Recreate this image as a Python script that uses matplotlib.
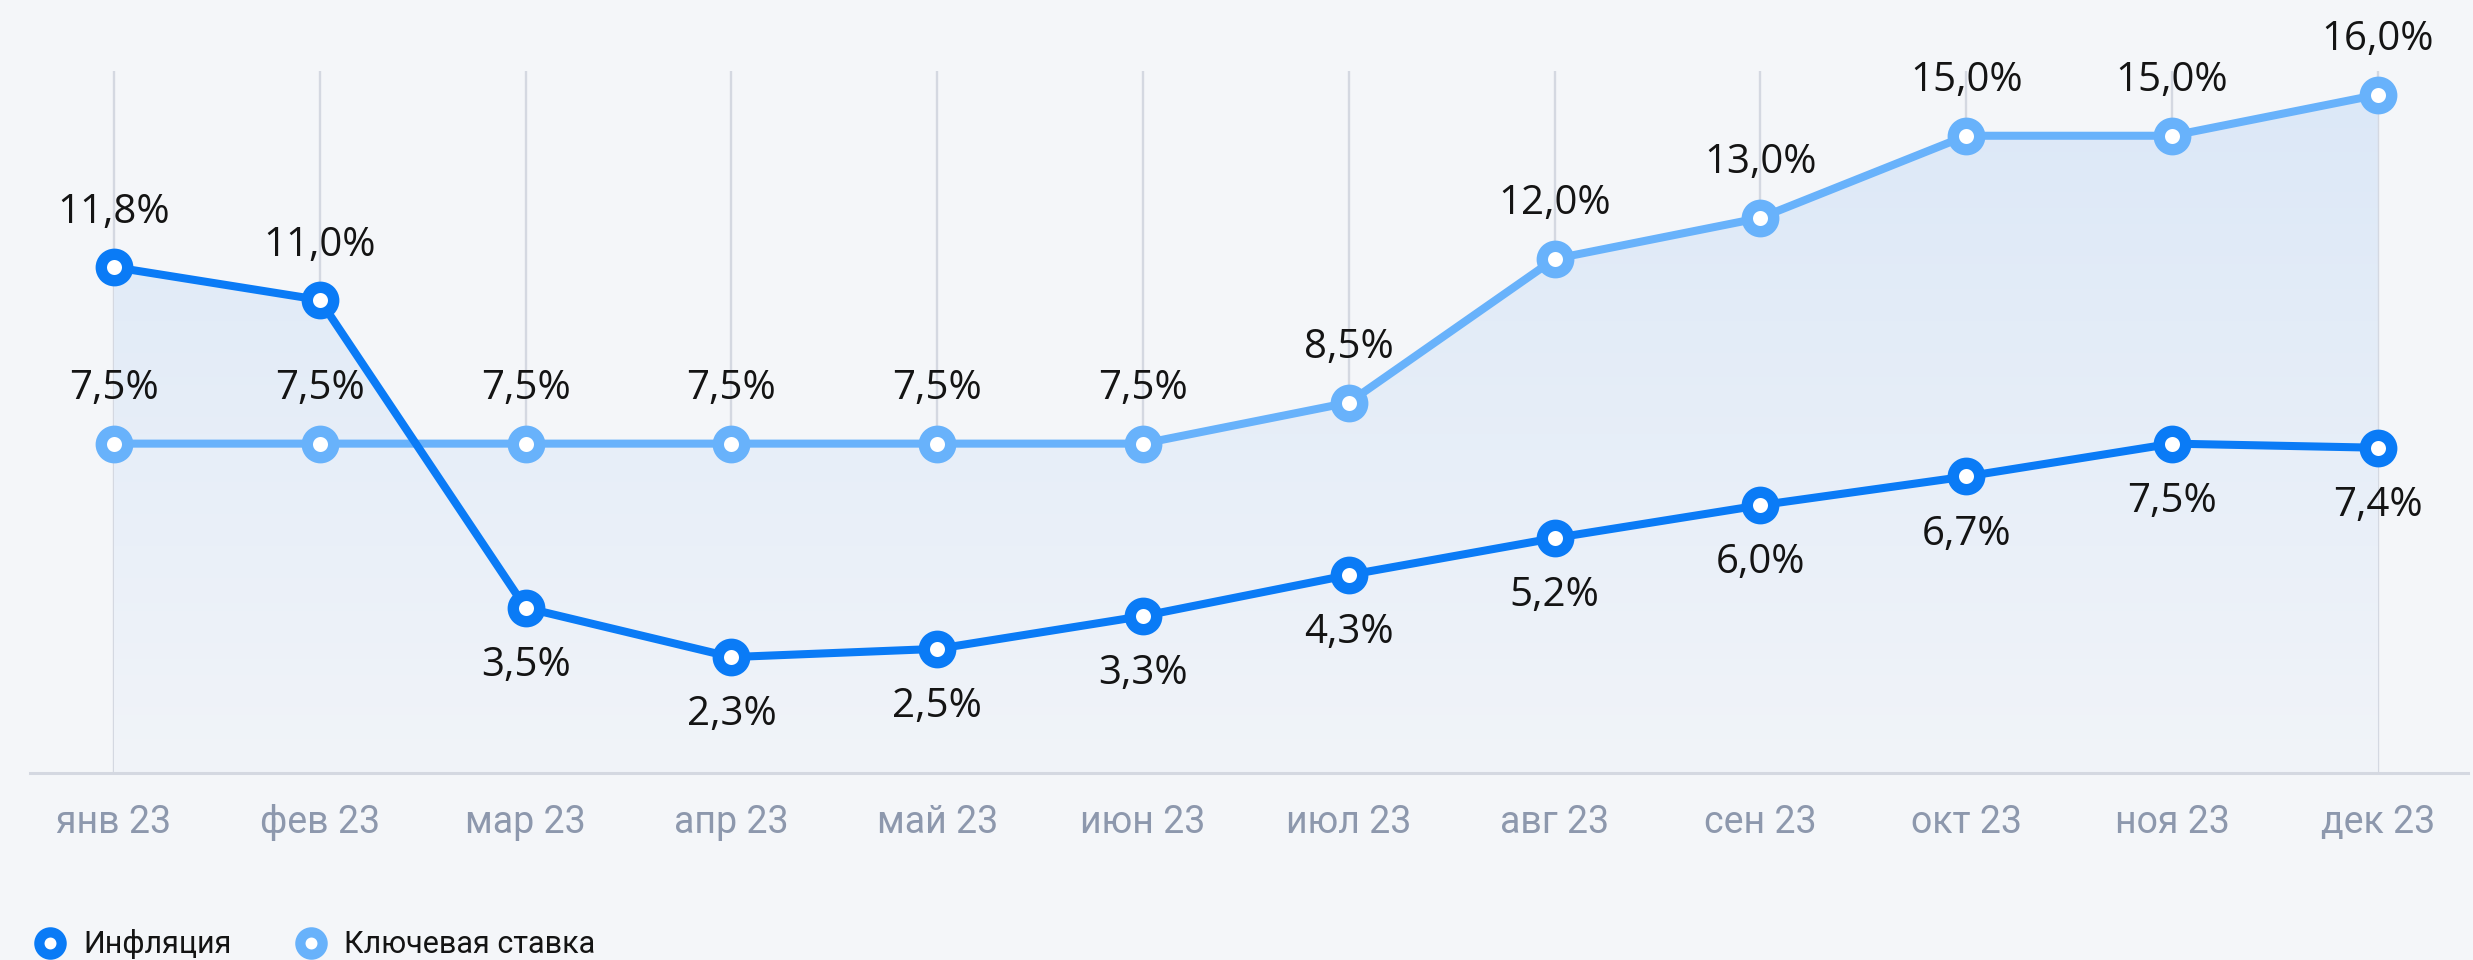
import numpy as np
import matplotlib
matplotlib.use("Agg")
import matplotlib.pyplot as plt
from matplotlib.colors import LinearSegmentedColormap
from matplotlib.lines import Line2D

# ---- data ----
months = ["янв 23", "фев 23", "мар 23", "апр 23", "май 23", "июн 23",
          "июл 23", "авг 23", "сен 23", "окт 23", "ноя 23", "дек 23"]
inflation = [11.8, 11.0, 3.5, 2.3, 2.5, 3.3, 4.3, 5.2, 6.0, 6.7, 7.5, 7.4]
key_rate = [7.5, 7.5, 7.5, 7.5, 7.5, 7.5, 8.5, 12.0, 13.0, 15.0, 15.0, 16.0]
series_names = ["Инфляция", "Ключевая ставка"]

# ---- style ----
BG = "#f4f6f9"
C_INF = "#0a7bf6"
C_RATE = "#68b2fb"
GRID = "#d4d8e1"
TICK_C = "#8d98ad"
TXT = "#141414"
VAL_FONT = ["Open Sans", "DejaVu Sans"]
TICK_FONT = ["Roboto", "DejaVu Sans"]

W, H, DPI = 2473, 960, 100
fig = plt.figure(figsize=(W / DPI, H / DPI), dpi=DPI, facecolor=BG)

# axes placement in pixels
ax_left, ax_right = 30, 2468
ax_top, ax_bottom = 71, 773
ax = fig.add_axes([ax_left / W, (H - ax_bottom) / H,
                   (ax_right - ax_left) / W, (ax_bottom - ax_top) / H])
ax.set_facecolor("none")

x = np.arange(len(months))
x0_px, step_px = 114, 205.8
xlim = ((ax_left - x0_px) / step_px, (ax_right - x0_px) / step_px)
zero_px, unit_px = 751.5, 41.05
ylim = ((zero_px - ax_bottom) / unit_px, (zero_px - ax_top) / unit_px)

# gradient fills (opaque, so overlaps don't darken)
cmap = LinearSegmentedColormap.from_list("g", ["#f1f4f9", "#dce8f7"])
grad = np.linspace(0, 1, 256).reshape(-1, 1)
for vals in (key_rate, inflation):
    poly = ax.fill_between(x, vals, ylim[0], color="none", linewidth=0)
    path = poly.get_paths()[0]
    im = ax.imshow(grad, extent=[xlim[0], xlim[1], ylim[0], 16.0],
                   origin="lower", cmap=cmap, aspect="auto", zorder=1,
                   interpolation="bilinear")
    im.set_clip_path(path, transform=ax.transData)

ax.set_xlim(*xlim)
ax.set_ylim(*ylim)

# grid
for xi in x:
    ax.axvline(xi, color=GRID, lw=1.7, zorder=0.5)

ax.plot(x, key_rate, color=C_RATE, lw=5.8, zorder=3,
        marker="o", ms=19, mfc="white", mec=C_RATE, mew=8.2)
ax.plot(x, inflation, color=C_INF, lw=5.8, zorder=4,
        marker="o", ms=19, mfc="white", mec=C_INF, mew=8.2)


def fmt(v):
    return f"{v:.1f}".replace(".", ",") + "%"


for xi, v in zip(x, key_rate):
    ax.annotate(fmt(v), (xi, v), xytext=(0, 32), textcoords="offset points",
                ha="center", va="baseline", fontsize=29, color=TXT,
                family=VAL_FONT, zorder=6, annotation_clip=False)
for xi, v, r in zip(x, inflation, key_rate):
    dy = 32 if v > r else -49
    ax.annotate(fmt(v), (xi, v), xytext=(0, dy), textcoords="offset points",
                ha="center", va="baseline", fontsize=29, color=TXT,
                family=VAL_FONT, zorder=6, annotation_clip=False)

# axes styling
for s in ("top", "right", "left"):
    ax.spines[s].set_visible(False)
ax.spines["bottom"].set_color(GRID)
ax.spines["bottom"].set_linewidth(2.2)
ax.set_yticks([])
ax.set_xticks(x)
ax.set_xticklabels(months, fontsize=27, color=TICK_C, family=TICK_FONT)
ax.tick_params(axis="x", length=0, pad=43)
for lab in ax.get_xticklabels():
    lab.set_va("baseline")

# legend (manual placement)
lax = fig.add_axes([0, 0, 1, 1])
lax.set_xlim(0, W)
lax.set_ylim(H, 0)
lax.axis("off")
for name, col, mx, tx in zip(series_names, [C_INF, C_RATE], [50, 311], [83, 344]):
    lax.add_line(Line2D([mx], [943], marker="o", ms=16, mfc="white",
                        mec=col, mew=7.4, ls="none"))
    lax.text(tx, 953, name, fontsize=22, color=TXT, family=TICK_FONT,
             ha="left", va="baseline")

fig.savefig("out.png", dpi=DPI, facecolor=BG)
